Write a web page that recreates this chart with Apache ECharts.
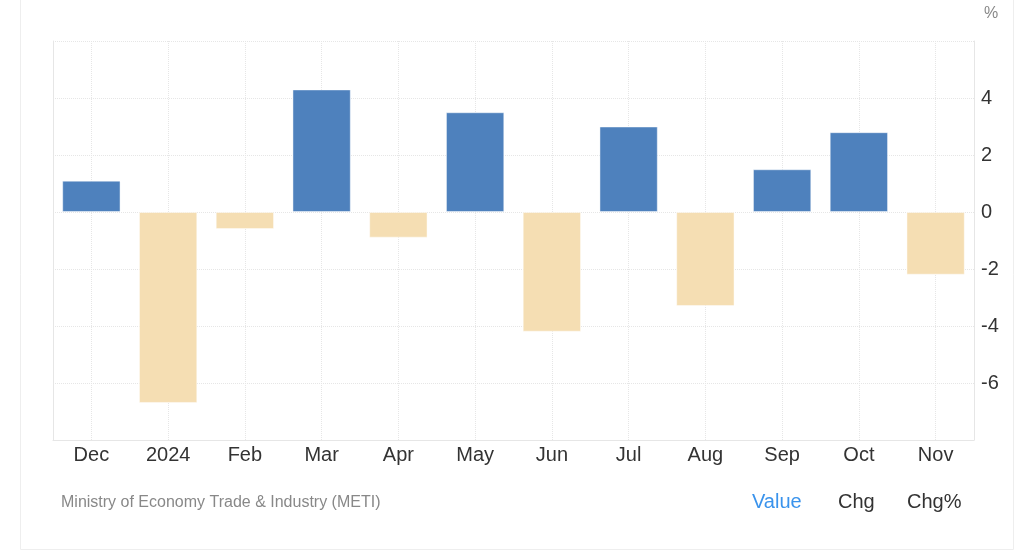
<!DOCTYPE html>
<html>
<head>
<meta charset="utf-8">
<script src="https://cdn.jsdelivr.net/npm/echarts@6/dist/echarts.min.js"></script>
<style>
html,body{margin:0;padding:0;background:#fff;}
#chart{width:1024px;height:557px;}
</style>
</head>
<body>
<div id="chart"></div>
<script>
const categories = ['Dec','2024','Feb','Mar','Apr','May','Jun','Jul','Aug','Sep','Oct','Nov'];
const values = [1.1, -6.7, -0.6, 4.3, -0.9, 3.5, -4.2, 3.0, -3.3, 1.5, 2.8, -2.2];
const yTicks = [-6, -4, -2, 0, 2, 4];
const unitLabel = '%';
const sourceText = 'Ministry of Economy Trade & Industry (METI)';
const buttons = ['Value', 'Chg', 'Chg%'];

const POS = '#4e81bd';
const NEG = '#f5deb3';
const FONT = '"Liberation Sans", Arial, sans-serif';

const chart = echarts.init(document.getElementById('chart'), null, {renderer: 'canvas'});
chart.setOption({
  animation: false,
  backgroundColor: '#fff',
  textStyle: {fontFamily: FONT},
  grid: {left: 53, right: 50, top: 41, bottom: 117, containLabel: false},
  xAxis: {
    type: 'category',
    data: categories,
    axisLine: {show: true, onZero: false, lineStyle: {color: '#e6e6e6', width: 1}},
    axisTick: {show: false},
    axisLabel: {color: '#333', fontSize: 20, fontFamily: FONT, margin: 5, interval: 0},
    splitLine: {show: true, alignWithLabel: true, lineStyle: {color: '#e6e6e6', type: 'dotted', width: 1}}
  },
  yAxis: [{
    type: 'value',
    position: 'right',
    min: -8, max: 6, interval: 2,
    axisLine: {show: true, lineStyle: {color: '#e6e6e6', width: 1}},
    axisTick: {show: false},
    axisLabel: {
      color: '#333', fontSize: 20, fontFamily: FONT, margin: 7,
      formatter: v => (yTicks.indexOf(v) >= 0 ? String(v) : '')
    },
    splitLine: {show: true, lineStyle: {color: '#e6e6e6', type: 'dotted', width: 1}}
  }, {
    type: 'value',
    position: 'left',
    min: -8, max: 6, interval: 2,
    axisLine: {show: true, lineStyle: {color: '#e6e6e6', width: 1}},
    axisTick: {show: false},
    axisLabel: {show: false},
    splitLine: {show: false}
  }],
  series: [{
    type: 'bar',
    yAxisIndex: 0,
    barCategoryGap: '24%',
    data: values.map(v => ({
      value: v,
      itemStyle: {color: v >= 0 ? POS : NEG, borderColor: 'rgba(255,255,255,0.45)', borderWidth: 1}
    }))
  }],
  graphic: [
    {type: 'rect', shape: {x: 20.5, y: -1, width: 993, height: 550.5}, style: {fill: 'none', stroke: '#eeeeee', lineWidth: 1}, z: -1, silent: true},
    {type: 'text', left: 984, top: 6, style: {text: unitLabel, fill: '#888', font: '16px ' + FONT}},
    {type: 'text', left: 61, top: 495, style: {text: sourceText, fill: '#888', font: '16px ' + FONT}},
    {type: 'text', left: 752, top: 492, style: {text: buttons[0], fill: '#3a93ec', font: '20px ' + FONT}},
    {type: 'text', left: 838, top: 492, style: {text: buttons[1], fill: '#333', font: '20px ' + FONT}},
    {type: 'text', left: 907, top: 492, style: {text: buttons[2], fill: '#333', font: '20px ' + FONT}}
  ]
});
</script>
</body>
</html>
